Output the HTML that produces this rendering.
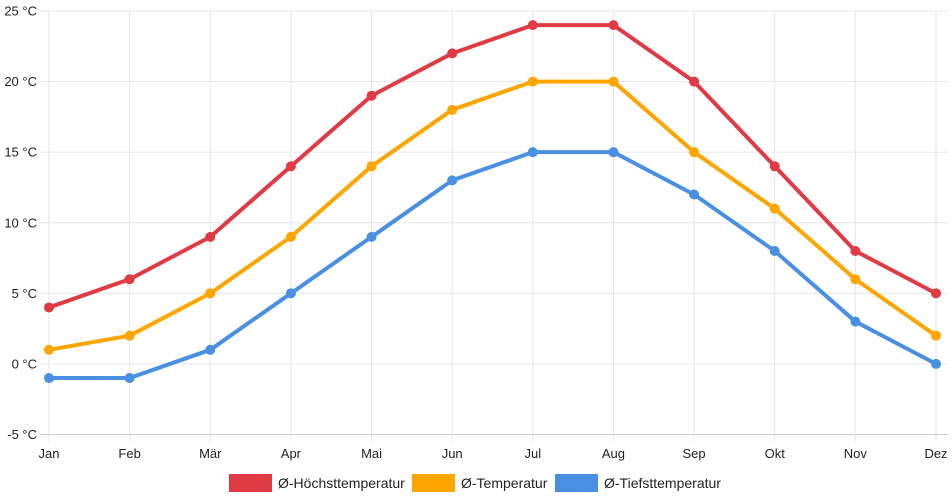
<!DOCTYPE html>
<html><head><meta charset="utf-8"><style>
body{margin:0;background:#fff;}
svg{display:block;font-family:"Liberation Sans",sans-serif;}
</style></head><body>
<svg id="chart" width="952" height="500" viewBox="0 0 952 500">
<g id="grid"></g>
<g id="series"></g>
<g id="legend"></g>
</svg>
<script>
const months=["Jan","Feb","Mär","Apr","Mai","Jun","Jul","Aug","Sep","Okt","Nov","Dez"];
const highTemps=[4,6,9,14,19,22,24,24,20,14,8,5];
const meanTemps=[1,2,5,9,14,18,20,20,15,11,6,2];
const lowTemps=[-1,-1,1,5,9,13,15,15,12,8,3,0];
const yTicks=[-5,0,5,10,15,20,25];
const seriesNames=["Ø-Höchsttemperatur","Ø-Temperatur","Ø-Tiefsttemperatur"];
const NS="http://www.w3.org/2000/svg";
const x0=49,x1=936,yTop=11,yBot=434.5,vMin=-5,vMax=25;
function xS(i){return x0+i*(x1-x0)/(months.length-1);}
function yS(v){return yBot-(v-vMin)*(yBot-yTop)/(vMax-vMin);}
function mk(tag,attrs,parent){const e=document.createElementNS(NS,tag);for(const k in attrs)e.setAttribute(k,attrs[k]);parent.appendChild(e);return e;}
const grid=document.getElementById('grid');
yTicks.forEach(v=>{
  const l=mk('line',{x1:40,x2:948,y1:yS(v),y2:yS(v),stroke:v===vMin?'#ccc':'#e6e6e6','stroke-width':1},grid);
  
  
  const t=mk('text',{x:37,y:yS(v)+4.5,'text-anchor':'end','font-size':13,fill:'#222'},grid);
  t.textContent=v+' °C';
  
  
});
months.forEach((m,i)=>{
  const l=mk('line',{x1:xS(i),x2:xS(i),y1:yTop,y2:yBot+7,stroke:'#e6e6e6','stroke-width':1},grid);
  
  
  const t=mk('text',{x:xS(i),y:458,'text-anchor':'middle','font-size':13,fill:'#222'},grid);
  t.textContent=m;
  
  
});
const ser=document.getElementById('series');
const all=[[highTemps,'#e03a45'],[meanTemps,'#ffa500'],[lowTemps,'#4a90e2']];
all.forEach(([d,c],si)=>{
  const g=mk('g',{},ser);
  
  
  const p=mk('polyline',{points:d.map((v,i)=>xS(i)+','+yS(v)).join(' '),fill:'none',stroke:c,'stroke-width':4,'stroke-linejoin':'round'},g);
  
  
  d.forEach((v,i)=>{
    const pt=mk('circle',{cx:xS(i),cy:yS(v),r:5,fill:c},g);
    
    
  });
});
const leg=document.getElementById('legend');
const lx=[229,412,555];
all.forEach(([d,c],si)=>{
  const g=mk('g',{},leg);
  
  
  mk('rect',{x:lx[si],y:474,width:43,height:18,fill:c},g);
  const t=mk('text',{x:lx[si]+49,y:488,'font-size':14,fill:'#222'},g);
  t.textContent=seriesNames[si];
});
</script>
</body></html>
